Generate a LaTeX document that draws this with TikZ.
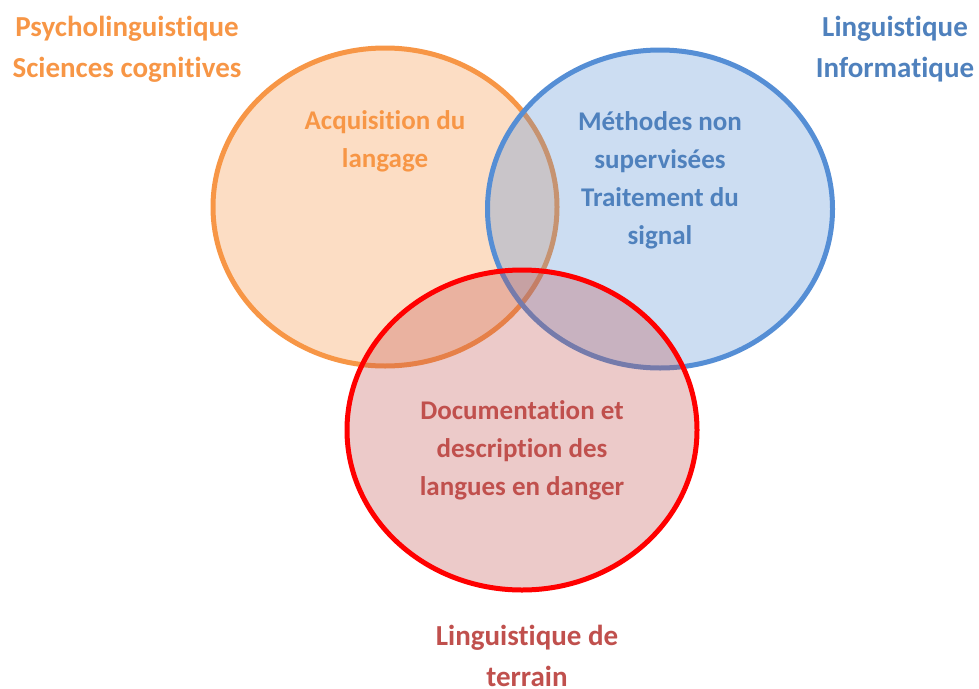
\documentclass[tikz,border=0pt]{standalone}
\usepackage{fontspec}
\setmainfont{Carlito}[Ligatures=NoCommon]
\usetikzlibrary{shapes.geometric,positioning}
\definecolor{orangeC}{HTML}{F79646}
\definecolor{blueC}{HTML}{558ED5}
\definecolor{blueT}{HTML}{4F81BD}
\definecolor{redT}{HTML}{C0504D}

\begin{document}
\begin{tikzpicture}[x=1pt, y=-1pt,
    field/.style={ellipse, inner sep=0pt, line width=5pt},
    lbl/.style={font=\fontsize{27}{38}\selectfont\bfseries, align=center},
    fieldname/.style={font=\fontsize{29}{41}\selectfont\bfseries, align=center, inner sep=0pt}]
    \useasboundingbox (0,0) rectangle (979,688);

    % the three fields
    \node[field, draw=orangeC, fill=orangeC, fill opacity=0.32, draw opacity=1,
        minimum width=344pt, minimum height=318pt] (psy) at (385,207) {};
    \node[field, draw=blueC, fill=blueC, fill opacity=0.3, draw opacity=1,
        minimum width=345pt, minimum height=318pt] (info) at (660,209) {};
    \node[field, draw=red, fill=redT, fill opacity=0.3, draw opacity=1,
        minimum width=350pt, minimum height=320pt] (terr) at (522,430) {};

    % contents
    \node[lbl, text=orangeC] (acq) at (385,141) {Acquisition du\\langage};
    \node[lbl, text=blueT] (meth) at (660,180) {Méthodes non\\supervisées\\Traitement du\\signal};
    \node[lbl, text=redT] (doc) at (522,450) {Documentation et\\description des\\langues en danger};

    % field names
    \node[fieldname, text=orangeC] (psyname) at (127,49) {Psycholinguistique\\Sciences cognitives};
    \node[fieldname, text=blueT] (infoname) at (895,49) {Linguistique\\Informatique};
    \node[fieldname, text=redT] (terrname) at (527,656) {Linguistique de\\terrain};
\end{tikzpicture}
\end{document}
